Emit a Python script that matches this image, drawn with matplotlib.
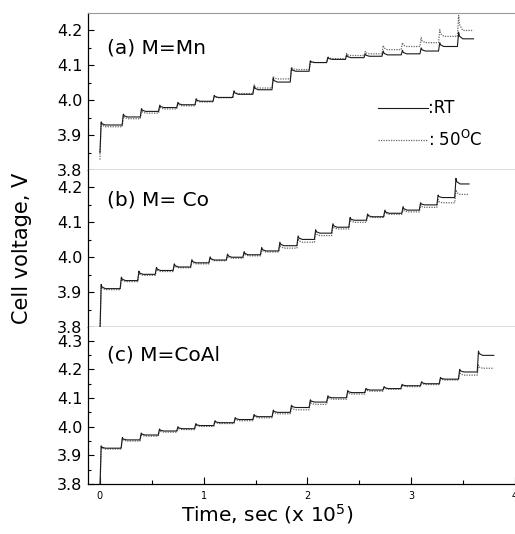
import matplotlib
matplotlib.use('Agg')
import matplotlib.pyplot as plt

plt.rcParams['font.family'] = ['DejaVu Sans']
plt.rcParams['mathtext.fontset'] = 'dejavusans'

# step start times (x 10^5 s), plateau ("rest") and spike ("peak") voltages
a_step_t = [0.0, 0.214, 0.389, 0.565, 0.74, 0.916, 1.09, 1.28, 1.474, 1.658,
            1.834, 2.016, 2.185, 2.366, 2.545, 2.718, 2.903, 3.084, 3.263, 3.445]
a_end = 3.60
a_start_rt, a_start_hot = 3.85, 3.83
a_rt_rest = [3.929, 3.952, 3.968, 3.979, 3.987, 3.997, 4.008, 4.017, 4.030, 4.052,
             4.083, 4.108, 4.117, 4.122, 4.126, 4.130, 4.133, 4.141, 4.154, 4.176]
a_rt_peak = [3.938, 3.960, 3.976, 3.986, 3.994, 4.004, 4.014, 4.027, 4.040, 4.063,
             4.092, 4.113, 4.123, 4.130, 4.133, 4.141, 4.143, 4.150, 4.165, 4.195]
a_hot_rest = [3.924, 3.947, 3.963, 3.975, 3.984, 3.995, 4.007, 4.019, 4.035, 4.061,
              4.088, 4.108, 4.119, 4.128, 4.133, 4.145, 4.154, 4.165, 4.183, 4.200]
a_hot_peak = [3.935, 3.957, 3.972, 3.983, 3.992, 4.003, 4.013, 4.027, 4.044, 4.069,
              4.095, 4.113, 4.125, 4.134, 4.140, 4.157, 4.165, 4.179, 4.202, 4.243]

b_step_t = [0.0, 0.195, 0.364, 0.533, 0.705, 0.874, 1.05, 1.218, 1.378, 1.547, 1.722,
            1.898, 2.067, 2.233, 2.399, 2.568, 2.734, 2.909, 3.078, 3.247, 3.419]
b_end = 3.557
b_start_rt, b_start_hot = 3.78, 3.78
b_rt_rest = [3.910, 3.933, 3.951, 3.962, 3.972, 3.984, 3.992, 4.000, 4.007, 4.018, 4.033,
             4.051, 4.069, 4.086, 4.106, 4.116, 4.126, 4.135, 4.150, 4.171, 4.210]
b_rt_peak = [3.922, 3.943, 3.960, 3.971, 3.981, 3.993, 4.001, 4.009, 4.016, 4.028, 4.043,
             4.061, 4.079, 4.096, 4.114, 4.124, 4.135, 4.145, 4.156, 4.178, 4.226]
b_hot_rest = [3.907, 3.930, 3.948, 3.959, 3.970, 3.981, 3.990, 3.997, 4.004, 4.015, 4.026,
              4.043, 4.062, 4.081, 4.100, 4.114, 4.123, 4.130, 4.143, 4.156, 4.180]
b_hot_peak = [3.918, 3.940, 3.957, 3.968, 3.978, 3.990, 3.999, 4.006, 4.013, 4.024, 4.036,
              4.053, 4.072, 4.091, 4.110, 4.122, 4.131, 4.138, 4.150, 4.165, 4.193]

c_step_t = [0.0, 0.204, 0.386, 0.562, 0.74, 0.912, 1.097, 1.292, 1.474, 1.659, 1.834,
            2.016, 2.185, 2.376, 2.552, 2.727, 2.90, 3.088, 3.27, 3.455, 3.636]
c_end = 3.796
c_start_rt, c_start_hot = 3.78, 3.78
c_rt_rest = [3.925, 3.954, 3.971, 3.985, 3.993, 4.004, 4.014, 4.025, 4.035, 4.050, 4.067,
             4.086, 4.101, 4.119, 4.128, 4.133, 4.143, 4.150, 4.166, 4.191, 4.249]
c_rt_peak = [3.933, 3.962, 3.978, 3.992, 4.000, 4.011, 4.021, 4.032, 4.043, 4.058, 4.075,
             4.094, 4.108, 4.126, 4.134, 4.140, 4.148, 4.157, 4.172, 4.200, 4.264]
c_hot_rest = [3.922, 3.950, 3.967, 3.981, 3.990, 4.001, 4.011, 4.021, 4.031, 4.045, 4.059,
              4.078, 4.096, 4.114, 4.124, 4.131, 4.140, 4.147, 4.163, 4.180, 4.204]
c_hot_peak = [3.930, 3.958, 3.974, 3.988, 3.997, 4.008, 4.018, 4.029, 4.040, 4.054, 4.068,
              4.087, 4.104, 4.121, 4.131, 4.138, 4.146, 4.154, 4.170, 4.190, 4.215]

panel_labels = ['(a) M=Mn', '(b) M= Co', '(c) M=CoAl']
y_ticks = [[3.8, 3.9, 4.0, 4.1, 4.2], [3.8, 3.9, 4.0, 4.1, 4.2], [3.8, 3.9, 4.0, 4.1, 4.2, 4.3]]
y_limits = [(3.8, 4.25), (3.8, 4.25), (3.8, 4.348)]
x_ticks = [0, 1, 2, 3, 4]

RISE = 0.012
RELAX = 0.04


def gitt_curve(step_t, rest, peak, start, end):
    # piecewise pulse / relaxation trace built from the step values
    ts, vs = [0.0], [start]
    level = start
    for t, r, p in zip(step_t, rest, peak):
        ts += [t, t + RISE, t + RISE + 0.008, t + RISE + RELAX]
        vs += [level, p, r + 0.4 * (p - r), r]
        level = r
    ts.append(end)
    vs.append(level)
    return ts, vs


panels = [
    (a_step_t, a_end, a_start_rt, a_start_hot, a_rt_rest, a_rt_peak, a_hot_rest, a_hot_peak),
    (b_step_t, b_end, b_start_rt, b_start_hot, b_rt_rest, b_rt_peak, b_hot_rest, b_hot_peak),
    (c_step_t, c_end, c_start_rt, c_start_hot, c_rt_rest, c_rt_peak, c_hot_rest, c_hot_peak),
]

fig = plt.figure(figsize=(5.15, 5.34), dpi=100)
left = 88 / 515
h = 157 / 534
bottoms = [(534 - 170) / 534, (534 - 327) / 534, (534 - 484) / 534]
label_y = [0.777, 0.81, 0.82]

for i, (step_t, end, s_rt, s_hot, rt_r, rt_p, hot_r, hot_p) in enumerate(panels):
    ax = fig.add_axes([left, bottoms[i], 1 - left, h])
    t_hot, v_hot = gitt_curve(step_t, hot_r, hot_p, s_hot, end)
    t_rt, v_rt = gitt_curve(step_t, rt_r, rt_p, s_rt, end)
    ax.plot(t_hot, v_hot, color='#666666', linestyle=(0, (1, 1)), linewidth=0.9,
            label=': 50$^{\\mathrm{O}}$C')
    ax.plot(t_rt, v_rt, color='#1a1a1a', linewidth=0.8, label=':RT')

    ax.set_xlim(-0.115, 3.975)
    ax.set_ylim(*y_limits[i])
    ax.set_yticks(y_ticks[i])
    ax.set_yticklabels([f'{v:.1f}' for v in y_ticks[i]])
    ax.set_yticks([v + 0.05 for v in y_ticks[i][:-1]], minor=True)
    ax.set_xticks(x_ticks)
    ax.set_xticks([0.5, 1.5, 2.5, 3.5], minor=True)
    ax.tick_params(axis='y', which='major', direction='in', length=4, width=0.8,
                   labelsize=11.5, pad=4)
    ax.tick_params(axis='y', which='minor', direction='in', length=2, width=0.8)
    if i < 2:
        ax.tick_params(axis='x', which='major', direction='out', length=5, width=0.8,
                       labelbottom=False)
        ax.tick_params(axis='x', which='minor', direction='out', length=3, width=0.8)
    else:
        ax.tick_params(axis='x', which='major', direction='in', length=5, width=0.8,
                       labelsize=7, pad=5)
        ax.tick_params(axis='x', which='minor', direction='in', length=3, width=0.8)
    ax.spines['right'].set_visible(False)
    if i == 0:
        ax.spines['top'].set_color('#999999')
    else:
        ax.spines['top'].set_visible(False)
    for s in ['left', 'bottom']:
        ax.spines[s].set_linewidth(0.9)

    ax.text(0.045, label_y[i], panel_labels[i], transform=ax.transAxes,
            fontsize=14.5, va='center', ha='left')

    if i == 0:
        handles, labels = ax.get_legend_handles_labels()
        ax.legend(handles[::-1], labels[::-1], loc='upper left', bbox_to_anchor=(0.679, 0.45),
                  frameon=False, fontsize=12, handlelength=3.0, handletextpad=0.0,
                  labelspacing=0.75, borderpad=0, borderaxespad=0)

fig.text(22 / 515, 1 - 248 / 534, 'Cell voltage, V', rotation=90, fontsize=15,
         ha='center', va='center')
fig.text(267 / 515, 1 - 514 / 534, 'Time, sec (x 10$^{5}$)', fontsize=14.5,
         ha='center', va='center')

fig.savefig('out.png', dpi=100)
